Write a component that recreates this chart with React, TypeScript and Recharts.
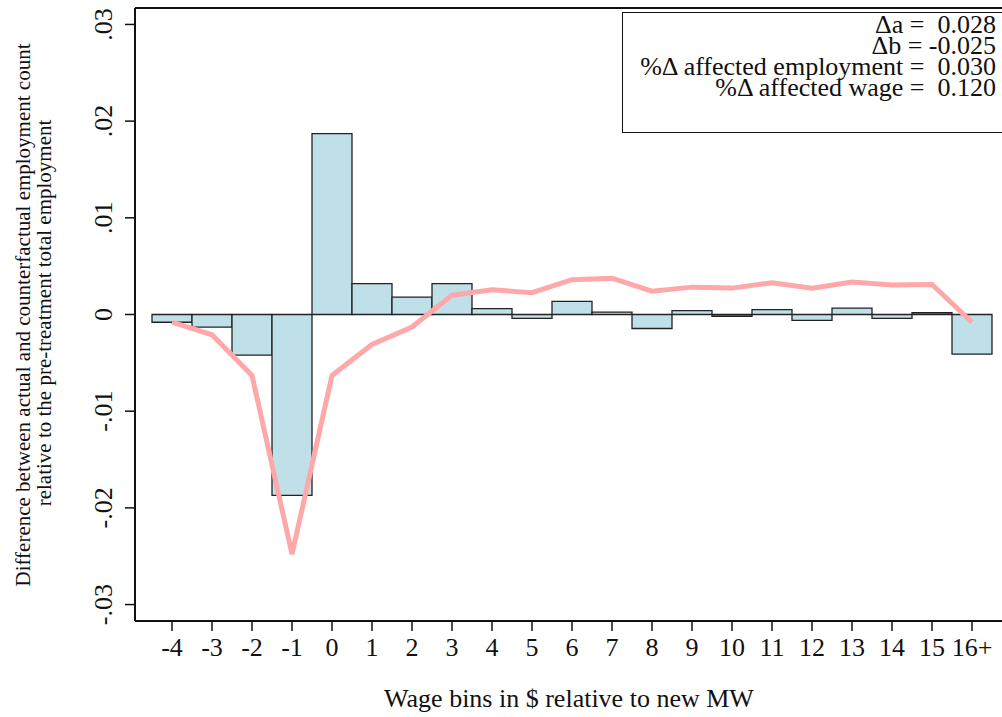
import { Bar, ComposedChart, Line, ReferenceLine, XAxis, YAxis, Label } from "recharts"

const bins = ["-4", "-3", "-2", "-1", "0", "1", "2", "3", "4", "5", "6", "7", "8", "9", "10", "11", "12", "13", "14", "15", "16+"]
const barValues = [-0.0008, -0.0013, -0.0042, -0.0187, 0.0187, 0.0032, 0.0018, 0.0032, 0.0006, -0.0004, 0.00135, 0.00024, -0.00145, 0.0004, -0.00018, 0.0005, -0.0006, 0.00065, -0.0004, 0.00018, -0.0041]
const lineValues = [-0.0008, -0.0021, -0.0063, -0.0248, -0.0063, -0.0031, -0.0013, 0.002, 0.00256, 0.00225, 0.0036, 0.00376, 0.00241, 0.00283, 0.00273, 0.00328, 0.00273, 0.00335, 0.00304, 0.00311, -0.0008]
const yTicks = [-0.03, -0.02, -0.01, 0, 0.01, 0.02, 0.03]
const yTickLabels = ["-.03", "-.02", "-.01", "0", ".01", ".02", ".03"]
const statLines = ["Δa =  0.028", "Δb = -0.025", "%Δ affected employment =  0.030", "%Δ affected wage =  0.120"]

const Y_MIN = -0.0317
const Y_MAX = 0.0317
const FONT = "'Liberation Serif', 'Times New Roman', serif"

const data = bins.map((bin, i) => ({ bin, diff: barValues[i], cum: lineValues[i] }))

function YTick(props: any) {
  const { x, y, payload } = props
  const label = yTickLabels[yTicks.indexOf(payload.value)] ?? String(payload.value)
  return (
    <text transform={`translate(${x - 13}, ${y}) rotate(-90)`} textAnchor="middle" fontSize={26} fontFamily={FONT} fill="#111">
      {label}
    </text>
  )
}

function XTick(props: any) {
  const { x, y, payload } = props
  return (
    <text x={x} y={y + 25} textAnchor="middle" fontSize={26} fontFamily={FONT} fill="#111">
      {payload.value}
    </text>
  )
}

export default function App() {
  return (
    <div style={{ position: "absolute", left: 0, top: 0, width: 1002, height: 717, overflow: "hidden", background: "#fff", fontFamily: FONT }}>
      <ComposedChart width={1002} height={717} data={data} margin={{ top: 8, right: 0, bottom: 0, left: 0 }} barCategoryGap={0} barGap={0}>
        <XAxis
          dataKey="bin"
          padding={{ left: 17, right: 10 }}
          height={96}
          tickSize={10}
          tickMargin={0}
          tickLine={{ stroke: "#111", strokeWidth: 1.5 }}
          axisLine={{ stroke: "#111", strokeWidth: 2 }}
          tick={<XTick />}
          interval={0}
        >
          <Label
            content={() => (
              <text x={569} y={707} textAnchor="middle" fontSize={26} fontFamily={FONT} fill="#111">
                Wage bins in $ relative to new MW
              </text>
            )}
          />
        </XAxis>
        <YAxis
          type="number"
          domain={[Y_MIN, Y_MAX]}
          ticks={yTicks}
          width={135}
          tickSize={10}
          tickMargin={0}
          tickLine={{ stroke: "#111", strokeWidth: 1.5 }}
          axisLine={{ stroke: "#111", strokeWidth: 2 }}
          tick={<YTick />}
          interval={0}
        >
          <Label
            content={() => (
              <g fontSize={21} fontFamily={FONT} fill="#111">
                <text transform="translate(30, 315) rotate(-90)" textAnchor="middle">
                  Difference between actual and counterfactual employment count
                </text>
                <text transform="translate(51, 313) rotate(-90)" textAnchor="middle">
                  relative to the pre-treatment total employment
                </text>
              </g>
            )}
          />
        </YAxis>
        <ReferenceLine y={Y_MAX} stroke="#111" strokeWidth={2} />
        <Bar dataKey="diff" fill="#bfe0e8" stroke="#222" strokeWidth={1.3} isAnimationActive={false} />
        <Line dataKey="cum" type="linear" stroke="#ffa8aa" strokeWidth={5} dot={false} activeDot={false} isAnimationActive={false} />
      </ComposedChart>
      <div
        style={{
          position: "absolute",
          left: 622,
          top: 12,
          width: 388,
          height: 121,
          border: "1.5px solid #111",
          paddingTop: 1,
          paddingRight: 13,
          boxSizing: "border-box",
          textAlign: "right",
          fontFamily: FONT,
          fontSize: 26,
          lineHeight: "21px",
          whiteSpace: "pre",
          color: "#111",
        }}
      >
        {statLines.map((s) => (
          <div key={s}>{s}</div>
        ))}
      </div>
    </div>
  )
}
